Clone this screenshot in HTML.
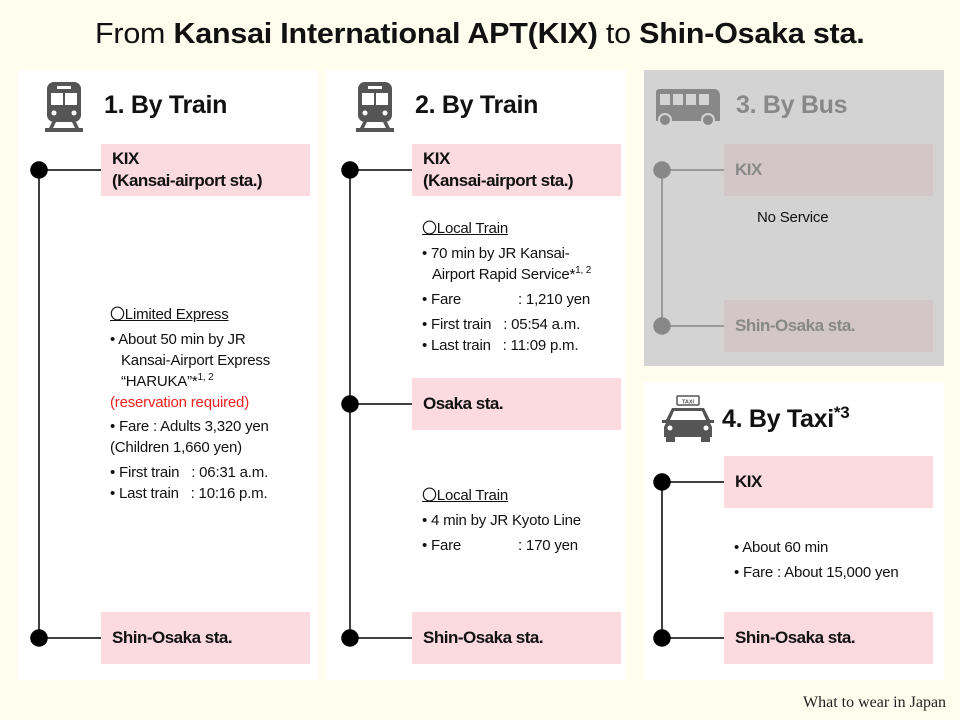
<!DOCTYPE html>
<html><head><meta charset="utf-8"><style>
*{margin:0;padding:0;box-sizing:border-box}
body{width:960px;height:720px;background:#fefdee;font-family:"Liberation Sans",sans-serif;color:#111;position:relative;overflow:hidden}
.a{position:absolute;white-space:nowrap}
.p{position:absolute;background:#fff}
.pk{position:absolute;background:#fbdae0}
.st{position:absolute;font-weight:bold;font-size:17px;line-height:22px;letter-spacing:-0.5px}
.h{position:absolute;font-weight:bold;font-size:25px;letter-spacing:-0.3px}
.t{position:absolute;font-size:15px;line-height:18px;white-space:nowrap;letter-spacing:-0.2px}
u{text-decoration:underline}
sup{font-size:10px;vertical-align:6px;line-height:0}
</style></head><body>
<div class="a" style="left:95px;top:18px;font-size:29px;transform:scaleX(1.05);transform-origin:left top;letter-spacing:-0.2px">From <b>Kansai International APT(KIX)</b> to <b>Shin-Osaka sta.</b></div>

<div class="p" style="left:18px;top:70px;width:300px;height:610px"></div>
<div class="p" style="left:326px;top:70px;width:300px;height:610px"></div>
<div class="p" style="left:644px;top:70px;width:300px;height:296px;background:#d3d3d3"></div>
<div class="p" style="left:644px;top:382px;width:300px;height:298px"></div>

<div class="pk" style="left:101px;top:144px;width:209px;height:52px"></div>
<div class="pk" style="left:101px;top:612px;width:209px;height:52px"></div>
<div class="pk" style="left:412px;top:144px;width:209px;height:52px"></div>
<div class="pk" style="left:412px;top:378px;width:209px;height:52px"></div>
<div class="pk" style="left:412px;top:612px;width:209px;height:52px"></div>
<div class="pk" style="left:724px;top:144px;width:209px;height:52px;background:#d3c6c8"></div>
<div class="pk" style="left:724px;top:300px;width:209px;height:52px;background:#d3c6c8"></div>
<div class="pk" style="left:724px;top:456px;width:209px;height:52px"></div>
<div class="pk" style="left:724px;top:612px;width:209px;height:52px"></div>

<svg class="a" style="left:0;top:0" width="960" height="720">
<g stroke="#000" stroke-width="1.5" fill="#000">
<line x1="39" y1="170" x2="39" y2="638"/><line x1="39" y1="170" x2="101" y2="170"/><line x1="39" y1="638" x2="101" y2="638"/>
<circle cx="39" cy="170" r="8"/><circle cx="39" cy="638" r="8"/>
<line x1="350" y1="170" x2="350" y2="638"/><line x1="350" y1="170" x2="412" y2="170"/><line x1="350" y1="404" x2="412" y2="404"/><line x1="350" y1="638" x2="412" y2="638"/>
<circle cx="350" cy="170" r="8"/><circle cx="350" cy="404" r="8"/><circle cx="350" cy="638" r="8"/>
<line x1="662" y1="482" x2="662" y2="638"/><line x1="662" y1="482" x2="724" y2="482"/><line x1="662" y1="638" x2="724" y2="638"/>
<circle cx="662" cy="482" r="8"/><circle cx="662" cy="638" r="8"/>
</g>
<g stroke="#888" stroke-width="1.5" fill="#888">
<line x1="662" y1="170" x2="662" y2="326"/><line x1="662" y1="170" x2="724" y2="170"/><line x1="662" y1="326" x2="724" y2="326"/>
<circle cx="662" cy="170" r="8"/><circle cx="662" cy="326" r="8"/>
</g>
<g fill="#555">
<rect x="47" y="82" width="34" height="40" rx="7"/>
<rect x="45" y="128" width="38" height="4"/><polygon points="52,122 56,122 51,132 47,132"/><polygon points="72,122 76,122 81,132 77,132"/>
<rect x="358" y="82" width="34" height="40" rx="7"/>
<rect x="356" y="128" width="38" height="4"/><polygon points="363,122 367,122 362,132 358,132"/><polygon points="383,122 387,122 392,132 388,132"/>
</g>
<g fill="#fff">
<rect x="51" y="93" width="12" height="12"/><rect x="65" y="93" width="12" height="12"/><rect x="57" y="86" width="14" height="3"/>
<circle cx="54" cy="113" r="2.5"/><circle cx="74" cy="113" r="2.5"/>
<rect x="362" y="93" width="12" height="12"/><rect x="376" y="93" width="12" height="12"/><rect x="368" y="86" width="14" height="3"/>
<circle cx="365" cy="113" r="2.5"/><circle cx="385" cy="113" r="2.5"/>
</g>
<g fill="#888">
<path d="M656 92 Q656 89 660 89 L714 89 Q719 89 720 95 L720 121 L656 121 Z"/>
<circle cx="665" cy="120" r="6" stroke="#d3d3d3" stroke-width="2"/><circle cx="708" cy="120" r="6" stroke="#d3d3d3" stroke-width="2"/>
</g>
<g fill="#d3d3d3"><rect x="660" y="94" width="10" height="11"/><rect x="673" y="94" width="10" height="11"/><rect x="686" y="94" width="10" height="11"/><rect x="699" y="94" width="10" height="11"/></g>
<g fill="#555">
<rect x="677" y="396" width="22" height="9" rx="1" fill="none" stroke="#555" stroke-width="1.5"/>
<path d="M672 408 L704 408 L710 420 L714 420 L714 423 L710 423 L712 427 L712 437 L664 437 L664 427 L666 423 L662 423 L662 420 L666 420 Z"/>
<rect x="666" y="436" width="9" height="6"/><rect x="701" y="436" width="9" height="6"/>
</g>
<g fill="#fff"><path d="M674 411 L702 411 L706 420 L670 420 Z"/><circle cx="670" cy="428" r="2.5"/><circle cx="706" cy="428" r="2.5"/></g>
<text x="688" y="403.5" font-size="5.5" text-anchor="middle" font-family="Liberation Sans" fill="#555" font-weight="bold">TAXI</text>
</svg>

<div class="h" style="left:104px;top:91px">1. By Train</div>
<div class="h" style="left:415px;top:91px">2. By Train</div>
<div class="h" style="left:736px;top:91px;color:#888">3. By Bus</div>
<div class="h" style="left:722px;top:403px">4. By Taxi<span style="font-size:17px;vertical-align:9px">*3</span></div>

<div class="st" style="left:112px;top:148px">KIX<br>(Kansai-airport sta.)</div>
<div class="st" style="left:112px;top:627px">Shin-Osaka sta.</div>
<div class="st" style="left:423px;top:148px">KIX<br>(Kansai-airport sta.)</div>
<div class="st" style="left:423px;top:393px">Osaka sta.</div>
<div class="st" style="left:423px;top:627px">Shin-Osaka sta.</div>
<div class="st" style="left:735px;top:159px;color:#888">KIX</div>
<div class="st" style="left:735px;top:315px;color:#888">Shin-Osaka sta.</div>
<div class="st" style="left:735px;top:471px">KIX</div>
<div class="st" style="left:735px;top:627px">Shin-Osaka sta.</div>

<div class="t" style="left:757px;top:209px">No Service</div>

<div class="t" style="left:110px;top:306px"><u>〇Limited Express</u></div>
<div class="t" style="left:110px;top:331px">• About 50 min by JR</div>
<div class="t" style="left:121px;top:352px">Kansai-Airport Express</div>
<div class="t" style="left:121px;top:373px">“HARUKA”*<sup>1, 2</sup></div>
<div class="t" style="left:110px;top:394px;color:#f02020">(reservation required)</div>
<div class="t" style="left:110px;top:418px">• Fare : Adults 3,320 yen</div>
<div class="t" style="left:110px;top:439px">(Children 1,660 yen)</div>
<div class="t" style="left:110px;top:464px">• First train &nbsp;&nbsp;: 06:31 a.m.</div>
<div class="t" style="left:110px;top:485px">• Last train &nbsp;&nbsp;: 10:16 p.m.</div>

<div class="t" style="left:422px;top:220px"><u>〇Local Train</u></div>
<div class="t" style="left:422px;top:245px">• 70 min by JR Kansai-</div>
<div class="t" style="left:432px;top:266px">Airport Rapid Service*<sup>1, 2</sup></div>
<div class="t" style="left:422px;top:291px">• Fare<span style="position:absolute;left:96px">: 1,210 yen</span></div>
<div class="t" style="left:422px;top:316px">• First train &nbsp;&nbsp;: 05:54 a.m.</div>
<div class="t" style="left:422px;top:337px">• Last train &nbsp;&nbsp;: 11:09 p.m.</div>

<div class="t" style="left:422px;top:487px"><u>〇Local Train</u></div>
<div class="t" style="left:422px;top:512px">• 4 min by JR Kyoto Line</div>
<div class="t" style="left:422px;top:537px">• Fare<span style="position:absolute;left:96px">: 170 yen</span></div>

<div class="t" style="left:734px;top:539px">• About 60 min</div>
<div class="t" style="left:734px;top:564px">• Fare : About 15,000 yen</div>

<div class="a" style="left:803px;top:694px;font-family:'Liberation Serif',serif;font-size:16px;color:#222">What to wear in Japan</div>
</body></html>
